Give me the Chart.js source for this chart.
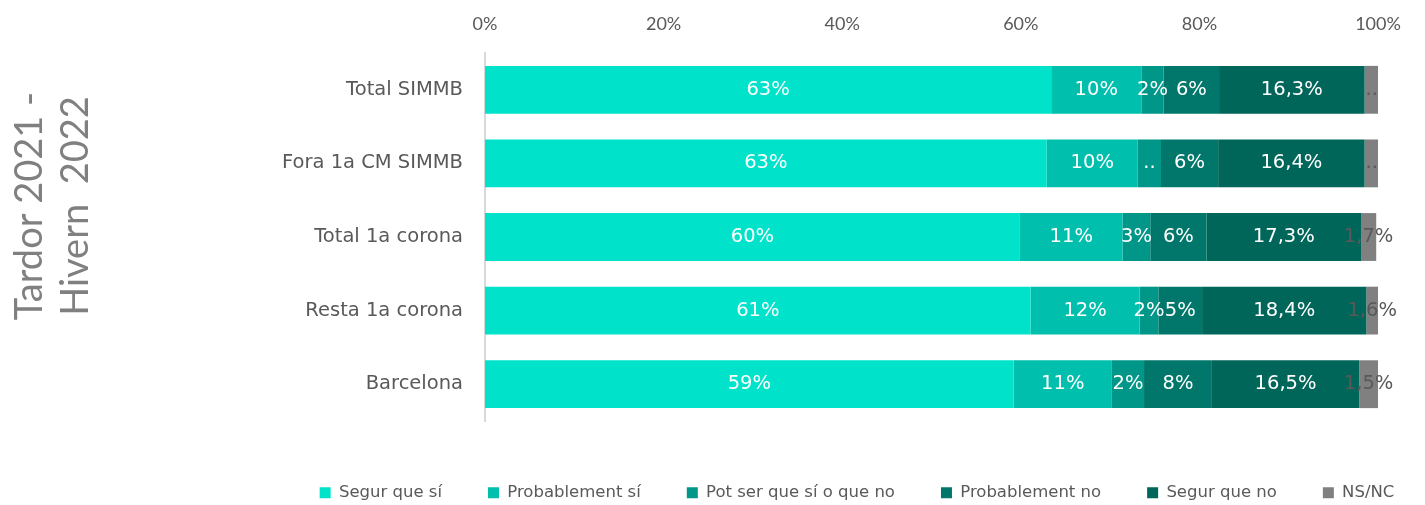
<!DOCTYPE html>
<html>
<head>
<meta charset="utf-8">
<script src="https://cdn.jsdelivr.net/npm/chart.js@4.4.1/dist/chart.umd.min.js"></script>
<style>
  body { margin: 0; background: #fff; }
  canvas { display: block; }
</style>
</head>
<body>
<canvas id="grafico" width="1425" height="505"></canvas>
<script>
// Categories (rows)
const categories = ['Total SIMMB', 'Fora 1a CM SIMMB', 'Total 1a corona', 'Resta 1a corona', 'Barcelona'];

// Series values (% of each row)
const segurSi   = [63.4, 62.9, 59.9, 61.1, 59.2];
const probSi    = [10.1, 10.2, 11.5, 12.2, 11.0];
const potSer    = [2.5, 2.6, 3.1, 2.1, 3.6];
const probNo    = [6.2, 6.4, 6.3, 4.9, 7.6];
const segurNo   = [16.3, 16.4, 17.3, 18.4, 16.5];
const nsnc      = [1.6, 1.6, 1.7, 1.3, 2.1];

// Texts shown on the segments
const segurSiTxt = ['63%', '63%', '60%', '61%', '59%'];
const probSiTxt  = ['10%', '10%', '11%', '12%', '11%'];
const potSerTxt  = ['2%', '..', '3%', '2%', '2%'];
const probNoTxt  = ['6%', '6%', '6%', '5%', '8%'];
const segurNoTxt = ['16,3%', '16,4%', '17,3%', '18,4%', '16,5%'];
const nsncTxt    = ['..', '..', '1,7%', '1,6%', '1,5%'];

// Axis ticks and side title
const xTicks = [0, 20, 40, 60, 80, 100];
const sideTitle = ['Tardor 2021 -', 'Hivern  2022'];

const FONT = 'Lato, "Open Sans", sans-serif';
const FONT_W = '"DejaVu Sans", sans-serif';

// Etiquetas dentro de cada segmento
const segLabels = {
    id: 'segLabels',
    afterDatasetsDraw(chart) {
        const ctx = chart.ctx;
        ctx.save();
        ctx.font = '19.5px ' + FONT_W;
        ctx.textAlign = 'center';
        ctx.textBaseline = 'middle';
        chart.data.datasets.forEach((ds, i) => {
            const meta = chart.getDatasetMeta(i);
            meta.data.forEach((bar, j) => {
                const txt = ds.texts[j];
                if (!txt) return;
                ctx.fillStyle = ds.textColor;
                ctx.fillText(txt, (bar.base + bar.x) / 2, bar.y);
            });
        });
        ctx.restore();
    }
};

// Título vertical a la izquierda
const sideTitlePlugin = {
    id: 'sideTitle',
    afterDraw(chart) {
        const ctx = chart.ctx;
        ctx.save();
        ctx.font = '38px ' + FONT;
        ctx.fillStyle = '#808080';
        ctx.textAlign = 'center';
        ctx.textBaseline = 'alphabetic';
        ctx.translate(0, 206);
        ctx.rotate(-Math.PI / 2);
        ctx.fillText(sideTitle[0], 0, 42);
        ctx.fillText(sideTitle[1], 0, 88);
        ctx.restore();
    }
};

const series = [
    { label: 'Segur que sí',          data: segurSi, texts: segurSiTxt, color: '#00E3CA', textColor: '#FFFFFF' },
    { label: 'Probablement sí',       data: probSi,  texts: probSiTxt,  color: '#00BFAD', textColor: '#FFFFFF' },
    { label: 'Pot ser que sí o que no', data: potSer, texts: potSerTxt, color: '#009688', textColor: '#FFFFFF' },
    { label: 'Probablement no',       data: probNo,  texts: probNoTxt,  color: '#00776A', textColor: '#FFFFFF' },
    { label: 'Segur que no',          data: segurNo, texts: segurNoTxt, color: '#00665A', textColor: '#FFFFFF' },
    { label: 'NS/NC',                 data: nsnc,    texts: nsncTxt,    color: '#808080', textColor: '#595959' }
];

const spacer = (axis, position, size) => ({
    type: 'linear',
    axis: axis,
    position: position,
    display: true,
    ticks: { display: false },
    grid: { display: false, drawTicks: false },
    border: { display: false },
    afterFit: scale => {
        if (axis === 'x') scale.height = size; else scale.width = size;
    }
});

new Chart(document.getElementById('grafico').getContext('2d'), {
    type: 'bar',
    data: {
        labels: categories,
        datasets: series.map(s => ({
            label: s.label,
            data: s.data,
            texts: s.texts,
            textColor: s.textColor,
            backgroundColor: s.color,
            borderWidth: 0,
            categoryPercentage: 1,
            barPercentage: 0.65
        }))
    },
    options: {
        indexAxis: 'y',
        responsive: false,
        animation: false,
        layout: { padding: { left: 269, right: -20, top: 0, bottom: -6 } },
        plugins: {
            tooltip: { enabled: false },
            legend: {
                position: 'bottom',
                labels: {
                    font: { family: FONT_W, size: 16.5, lineHeight: 0.6 },
                    color: '#595959',
                    boxWidth: 11,
                    boxHeight: 11,
                    padding: 46
                }
            }
        },
        scales: {
            x: {
                position: 'top',
                stacked: true,
                min: 0,
                max: 100,
                afterBuildTicks: scale => { scale.ticks = xTicks.map(v => ({ value: v })); },
                afterFit: scale => { scale.height = 53; },
                ticks: {
                    font: { family: FONT, size: 18 },
                    color: '#595959',
                    padding: 18,
                    callback: v => v + '%'
                },
                grid: { display: false, drawTicks: false },
                border: { display: false }
            },
            y: {
                stacked: true,
                afterFit: scale => { scale.width = 485 - 269; },
                ticks: {
                    font: { family: FONT_W, size: 19.5 },
                    color: '#595959',
                    padding: 22
                },
                grid: { display: false, drawTicks: false },
                border: { display: true, color: '#D9D9D9', width: 2 }
            },
            xGap: spacer('x', 'bottom', 17.5),
            yGap: spacer('y', 'right', 1445 - 1378)
        }
    },
    plugins: [segLabels, sideTitlePlugin]
});
</script>
</body>
</html>
